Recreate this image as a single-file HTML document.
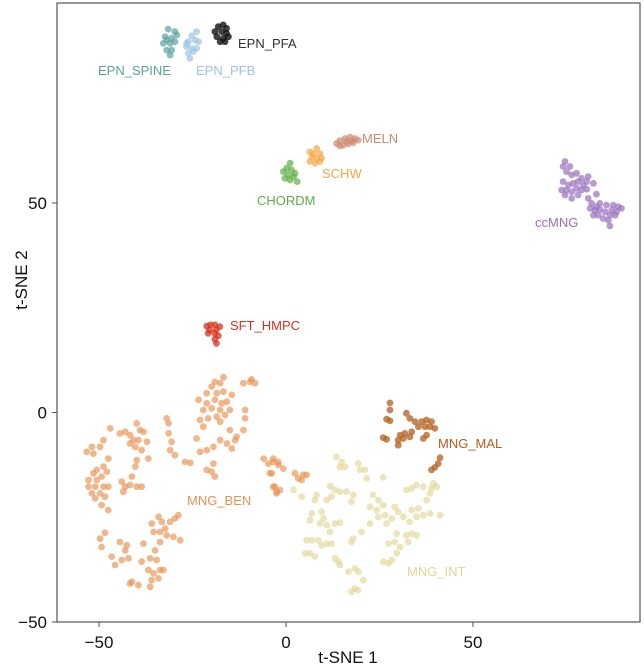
<!DOCTYPE html>
<html><head><meta charset="utf-8"><style>
html,body{margin:0;padding:0;background:#fff;}
svg{display:block;font-family:"Liberation Sans",Arial,sans-serif;}
</style></head><body>
<svg id="chart" width="644" height="665" viewBox="0 0 644 665" xmlns="http://www.w3.org/2000/svg">
<g id="frame"></g>
<g id="points"></g>
<g id="labels"></g>
<g id="axes"></g>
</svg>
<script>
// ---- data (t-SNE coordinates) ----
const xTicks = [-50, 0, 50];
const yTicks = [-50, 0, 50];
const clusterNames = ["MNG_BEN","MNG_INT","MNG_MAL","SFT_HMPC","ccMNG","CHORDM","SCHW","MELN","EPN_SPINE","EPN_PFB","EPN_PFA"];
const benX = [-19.0,-16.7,-17.6,-19.9,-21.2,-18.5,-16.7,-14.5,-23.4,-21.2,-19.0,-17.2,-15.8,-22.1,-19.9,-17.6,-15.0,-23.0,-20.8,-18.5,-16.3,-10.9,-10.9,-15.0,-13.2,-11.4,-13.6,-17.6,-22.1,-23.9,-23.0,-21.2,-19.4,-17.6,-15.8,-14.5,-11.4,-9.2,-8.3,-9.6,
-31.9,-31.4,-31.4,-30.6,-31.0,-29.7,-27.0,-25.6,-21.2,-19.4,-19.9,-19.0,
-47.0,-48.8,-51.9,-53.3,-51.5,-49.7,-47.5,-48.8,-50.6,-51.5,-52.8,-50.6,-49.3,-47.9,-52.8,-51.0,-48.8,-47.5,-51.9,-49.7,-51.0,-48.4,-49.3,-47.5,
-44.4,-43.0,-41.7,-39.9,-39.0,-38.1,-40.8,-39.5,-37.2,-38.6,-36.8,-40.3,-41.7,-39.9,-40.3,-41.2,-43.9,-43.0,-41.7,-39.9,-38.6,-43.5,
-6.0,-4.7,-3.4,-4.3,-2.0,-3.4,-2.5,
-48.4,-49.7,-49.3,-46.6,-45.7,-44.4,-43.0,-43.9,-42.1,-42.6,-38.1,-38.6,-36.3,-35.9,-34.1,-33.2,-35.4,-33.7,-32.3,-31.0,-29.7,-28.8,-31.9,-30.1,-28.3,-33.7,-35.0,-34.6,-36.8,-35.4,-33.7,-32.8,-35.9,-34.1,-36.3,-41.2,-39.5,-41.7,
-3.4,-2.1,-0.7,-3.8,2.4,3.3,4.6,5.5,4.2,-3.0,-1.6,-2.5];
const benY = [7.3,8.4,7.0,6.2,4.6,4.6,5.0,4.2,3.0,2.2,3.0,2.2,2.6,0.6,1.0,0.6,0.6,-1.8,-1.4,-1.0,-0.6,0.6,-1.4,-4.2,-5.8,-4.2,-6.6,-2.2,-3.4,-6.2,-9.4,-9.0,-8.2,-6.6,-7.4,-8.6,7.0,7.9,7.0,7.3,
-1.4,-2.6,-5.0,-7.0,-9.0,-10.2,-11.8,-12.0,-13.7,-12.2,-14.1,-15.3,
-3.8,-6.6,-8.2,-9.4,-9.8,-8.2,-11.0,-12.9,-13.7,-14.5,-16.1,-16.1,-15.3,-14.1,-17.7,-17.7,-17.7,-17.7,-19.3,-19.3,-20.5,-20.1,-22.1,-23.3,
-5.0,-4.6,-5.4,-2.6,-4.2,-4.6,-6.6,-6.6,-7.0,-9.0,-11.0,-8.2,-7.4,-11.4,-12.9,-15.3,-16.5,-17.7,-17.3,-17.7,-17.7,-18.9,
-11.0,-12.2,-11.8,-14.5,-12.5,-17.7,-18.9,
-28.7,-30.1,-32.1,-34.4,-36.4,-30.9,-32.9,-35.2,-34.8,-31.7,-31.3,-35.6,-34.8,-26.5,-24.9,-26.1,-28.5,-28.5,-27.7,-26.1,-25.3,-24.5,-29.3,-29.7,-30.5,-30.9,-32.9,-35.2,-37.6,-38.4,-37.6,-37.6,-40.0,-39.6,-41.6,-40.4,-41.2,-40.8,
-11.0,-11.8,-13.4,-14.5,-14.5,-15.7,-14.9,-14.9,-16.1,-17.7,-18.5,-19.3];
const intX = [13.5,14.9,15.8,14.4,19.3,21.1,19.8,21.6,26.0,11.8,13.1,14.4,16.2,18.0,17.5,12.2,10.9,8.2,7.7,2.0,4.2,6.9,6.4,9.5,10.0,9.1,10.9,13.1,14.4,11.8,5.5,6.9,8.6,9.5,10.9,12.2,18.0,17.5,20.2,22.5,23.3,24.7,22.5,24.2,26.0,26.5,26.9,28.3,24.7,29.1,30.0,31.4,29.6,29.1,27.4,30.5,29.6,32.2,33.6,34.9,36.7,39.4,37.6,38.5,35.4,33.6,34.9,36.7,38.5,41.2,33.1,32.2,33.6,34.9,32.7,6.4,5.1,7.7,13.1,14.0,14.4,16.7,18.4,19.3,20.7,18.4,19.3,17.5,26.0,27.4,28.3,38.9,40.3];
const intY = [-10.6,-11.8,-13.0,-13.0,-12.2,-13.7,-13.7,-15.7,-15.5,-17.6,-18.5,-18.9,-18.9,-19.7,-21.3,-20.1,-20.9,-19.7,-20.9,-18.5,-20.1,-24.1,-25.7,-23.7,-25.3,-26.5,-26.9,-26.5,-26.3,-28.5,-30.5,-30.5,-30.5,-31.7,-31.3,-31.3,-30.1,-30.9,-28.5,-26.5,-19.7,-20.9,-22.5,-23.3,-22.1,-24.5,-26.5,-25.3,-24.9,-22.5,-23.7,-24.9,-28.9,-30.9,-31.3,-32.1,-33.6,-18.5,-18.1,-17.3,-17.7,-16.9,-20.9,-19.3,-22.9,-23.3,-24.9,-24.5,-24.1,-24.5,-26.1,-29.3,-28.9,-29.3,-30.9,-33.6,-33.6,-34.4,-34.8,-35.6,-36.4,-38.0,-37.2,-38.0,-40.0,-42.0,-42.4,-42.8,-35.6,-36.0,-35.2,-18.1,-17.7];
const malX = [27.8,27.8,26.9,27.8,32.2,33.1,34.5,36.3,37.6,38.9,38.5,39.8,37.2,35.4,33.6,31.8,30.5,30.0,31.4,33.1,36.7,37.6,26.0,26.9,30.0,41.2,40.7,39.8,38.9];
const malY = [2.3,0.6,-1.6,-2.0,-0.2,-1.4,-2.2,-2.2,-1.8,-2.2,-3.4,-3.8,-3.4,-3.4,-4.6,-5.0,-5.4,-6.6,-6.2,-5.8,-6.2,-5.4,-6.0,-6.4,-7.8,-10.8,-12.2,-13.1,-13.7];
const sftX = [-21.2,-20.2,-19.0,-17.7,-20.4,-18.6,-20.8,-19.0,-18.1,-19.0,-18.6];
const sftY = [20.6,20.9,20.9,20.5,19.7,19.8,18.9,18.9,18.3,17.5,16.5];
const ccX = [74.6,74.1,75.9,75.0,76.4,77.7,79.0,80.8,80.4,82.2,74.1,75.5,76.8,78.1,79.5,73.7,75.0,76.4,77.7,79.0,80.4,74.6,76.4,78.1,83.0,80.8,81.7,83.9,85.7,87.5,88.8,81.3,82.6,83.9,85.3,87.1,88.4,89.7,82.2,83.5,84.8,86.6,88.0,86.2,86.6,83.0];
const ccY = [59.9,58.7,58.7,57.5,56.7,57.1,55.9,56.3,55.1,54.7,55.1,54.3,54.7,55.1,54.3,53.1,53.1,52.7,53.5,53.1,53.3,51.9,51.1,51.9,52.1,51.1,49.9,49.9,49.5,49.5,49.1,48.7,48.3,48.5,47.9,48.3,47.9,48.7,47.1,47.1,46.3,47.1,47.1,45.9,44.5,49.1];
const chordX = [1.1,0.2,1.5,-0.7,0.6,2.0,-0.3,1.1,3.0,2.4];
const chordY = [59.5,58.3,57.9,57.5,56.7,56.3,55.9,55.5,55.1,57.1];
const schwX = [6.4,8.2,9.1,6.9,8.2,9.5,6.4,7.8,9.1,7.3];
const schwY = [62.2,63.0,61.8,61.0,60.7,60.7,59.9,59.5,59.9,61.8];
const melnX = [13.5,14.4,15.8,17.1,18.4,19.3,18.0,16.7,15.3,14.4,16.2,17.6];
const melnY = [64.2,64.9,65.4,65.7,65.4,65.0,64.4,64.1,63.8,63.6,64.6,64.9];
const spineX = [-31.5,-29.7,-32.3,-30.6,-29.2,-32.8,-31.0,-29.7,-31.9,-30.6,-31.0,-31.9];
const spineY = [91.5,90.9,89.7,89.3,90.1,88.1,88.1,88.5,86.5,86.5,85.3,88.9];
const pfbX = [-23.9,-25.2,-26.1,-24.3,-23.4,-26.6,-25.2,-23.9,-26.1,-24.8,-25.7,-26.6];
const pfbY = [90.9,89.9,88.5,88.9,88.5,87.3,86.9,86.9,85.7,86.1,84.5,88.1];
const pfaX = [-18.1,-16.8,-15.9,-19.0,-17.2,-15.9,-18.5,-16.8,-15.4,-17.6,-16.3];
const pfaY = [92.1,92.5,91.7,90.9,90.9,90.5,89.7,89.3,89.7,88.5,88.5];

// ---- scales ----
const X0 = 286, XS = 3.74, Y0 = 412.5, YS = 4.19;
function sx(v){ return X0 + v*XS; }
function sy(v){ return Y0 - v*YS; }
const NS = "http://www.w3.org/2000/svg";
function mk(tag, attrs, parent){
  const e = document.createElementNS(NS, tag);
  for (const k in attrs) e.setAttribute(k, attrs[k]);
  parent.appendChild(e);
  return e;
}
const frame = document.getElementById('frame');
const box = mk('rect', {x:57, y:3, width:583, height:619, fill:'none', stroke:'#555', 'stroke-width':1.2}, frame);



const series = [
  {name:'MNG_BEN', xs:benX, ys:benY, color:'#e9914f', op:0.65},
  {name:'MNG_INT', xs:intX, ys:intY, color:'#e2d596', op:0.65},
  {name:'MNG_MAL', xs:malX, ys:malY, color:'#b35d1c', op:0.75},
  {name:'SFT_HMPC', xs:sftX, ys:sftY, color:'#d8311c', op:0.75},
  {name:'ccMNG', xs:ccX, ys:ccY, color:'#9870bd', op:0.7},
  {name:'CHORDM', xs:chordX, ys:chordY, color:'#5cae45', op:0.7},
  {name:'SCHW', xs:schwX, ys:schwY, color:'#f5a646', op:0.7},
  {name:'MELN', xs:melnX, ys:melnY, color:'#cc8a6c', op:0.7},
  {name:'EPN_SPINE', xs:spineX, ys:spineY, color:'#5aa39c', op:0.7},
  {name:'EPN_PFB', xs:pfbX, ys:pfbY, color:'#9cc4e4', op:0.7},
  {name:'EPN_PFA', xs:pfaX, ys:pfaY, color:'#111111', op:0.8}
];
const pts = document.getElementById('points');
series.forEach(s => {
  const g = mk('g', {}, pts);
  
  
  for (let i = 0; i < s.xs.length; i++) {
    const c = mk('circle', {cx:sx(s.xs[i]).toFixed(1), cy:sy(s.ys[i]).toFixed(1), r:3.4, fill:s.color, 'fill-opacity':s.op}, g);
    
    
  }
});

// cluster labels
const labels = document.getElementById('labels');
const labelDefs = [
  ['EPN_SPINE', 98, 75, '#5aa39c'], ['EPN_PFB', 196, 75, '#9cc4e4'], ['EPN_PFA', 238, 48, '#333'],
  ['MELN', 362, 143, '#cc8a6c'], ['SCHW', 322, 178, '#f5a646'], ['CHORDM', 257, 205, '#5cae45'],
  ['ccMNG', 535, 227, '#9870bd'], ['SFT_HMPC', 230, 330, '#d8311c'], ['MNG_BEN', 187, 505, '#e9914f'],
  ['MNG_MAL', 438, 448, '#b35d1c'], ['MNG_INT', 407, 576, '#e2d596']
];
labelDefs.forEach(d => {
  const t = mk('text', {x:d[1], y:d[2], fill:d[3], 'font-size':13}, labels);
  t.textContent = d[0];
  
  
});

// axes
const axes = document.getElementById('axes');
xTicks.forEach(v => {
  const l = mk('line', {x1:sx(v), x2:sx(v), y1:622, y2:627, stroke:'#555'}, axes);
  
  
  const t = mk('text', {x:sx(v), y:648, 'text-anchor':'middle', 'font-size':17, fill:'#111'}, axes);
  t.textContent = v < 0 ? '\u2212' + Math.abs(v) : String(v);
  
  
});
yTicks.forEach(v => {
  const l = mk('line', {x1:52, x2:57, y1:sy(v), y2:sy(v), stroke:'#555'}, axes);
  
  
  const t = mk('text', {x:47, y:sy(v)+6, 'text-anchor':'end', 'font-size':17, fill:'#111'}, axes);
  t.textContent = v < 0 ? '\u2212' + Math.abs(v) : String(v);
  
  
});
const xt = mk('text', {x:348, y:663, 'text-anchor':'middle', 'font-size':17, fill:'#111'}, axes);
xt.textContent = 't-SNE 1';


const yt = mk('text', {x:0, y:0, 'text-anchor':'middle', 'font-size':17, fill:'#111', transform:'translate(27,280) rotate(-90)'}, axes);
yt.textContent = 't-SNE 2';


</script>
</body></html>
